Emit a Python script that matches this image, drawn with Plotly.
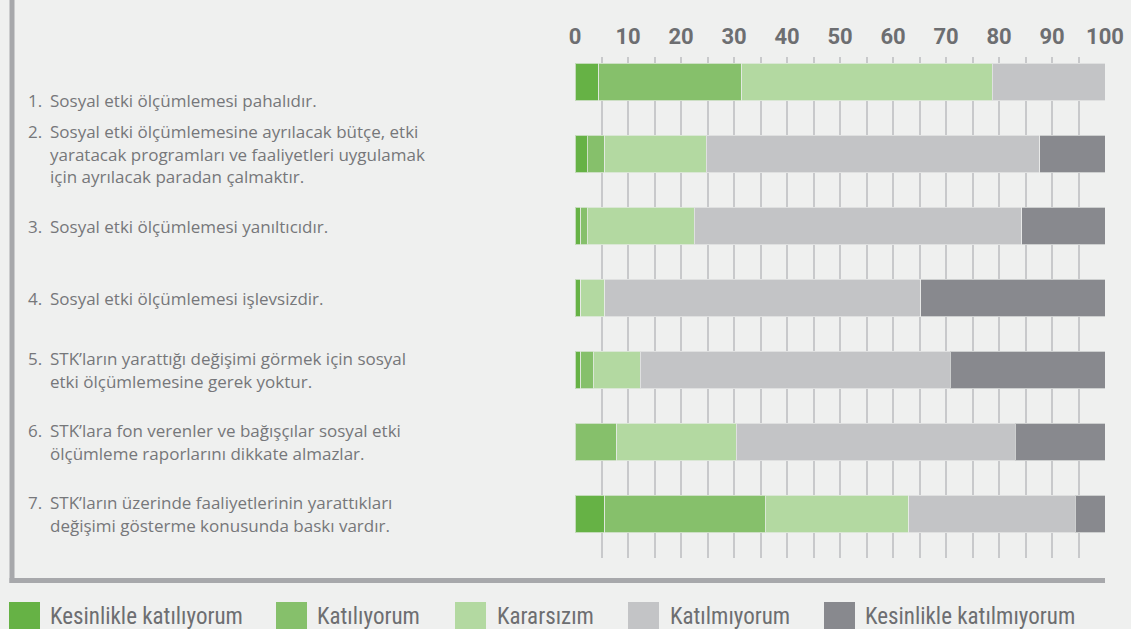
import plotly.graph_objects as go

# ---- data ----
row_ids = ["S1", "S2", "S3", "S4", "S5", "S6", "S7"]
row_numbers = ["1.", "2.", "3.", "4.", "5.", "6.", "7."]
row_lines = [
    ["Sosyal etki ölçümlemesi pahalıdır."],
    ["Sosyal etki ölçümlemesine ayrılacak bütçe, etki",
     "yaratacak programları ve faaliyetleri uygulamak",
     "için ayrılacak paradan çalmaktır."],
    ["Sosyal etki ölçümlemesi yanıltıcıdır."],
    ["Sosyal etki ölçümlemesi işlevsizdir."],
    ["STK’ların yarattığı değişimi görmek için sosyal",
     "etki ölçümlemesine gerek yoktur."],
    ["STK’lara fon verenler ve bağışçılar sosyal etki",
     "ölçümleme raporlarını dikkate almazlar."],
    ["STK’ların üzerinde faaliyetlerinin yarattıkları",
     "değişimi gösterme konusunda baskı vardır."],
]
series_names = ["Kesinlikle katılıyorum", "Katılıyorum", "Kararsızım",
                "Katılmıyorum", "Kesinlikle katılmıyorum"]
kesinlikle_katiliyorum = [4.5, 2.3, 1.1, 1.1, 1.1, 0.0, 5.6]
katiliyorum = [27.0, 3.3, 1.2, 0.0, 2.3, 7.9, 30.3]
kararsizim = [47.2, 19.2, 20.2, 4.5, 8.9, 22.5, 27.1]
katilmiyorum = [21.3, 62.9, 61.8, 59.6, 58.5, 52.7, 31.4]
kesinlikle_katilmiyorum = [0.0, 12.3, 15.7, 34.8, 29.2, 16.9, 5.6]
tick_vals = [0, 10, 20, 30, 40, 50, 60, 70, 80, 90, 100]

series_values = [kesinlikle_katiliyorum, katiliyorum, kararsizim,
                 katilmiyorum, kesinlikle_katilmiyorum]
colors = ["#66b245", "#86c06b", "#b3d9a1", "#c3c4c6", "#88898e"]

W, H = 1131, 629
ML, MR, MT, MB = 575, 26, 57, 71
PW = W - ML - MR
PH = H - MT - MB
BG = "#eff0ef"


def px(x):
    return (x - ML) / PW


def py(y):
    return (H - MB - y) / PH


fig = go.Figure()
for name, vals, col in zip(series_names, series_values, colors):
    fig.add_trace(go.Bar(
        y=row_ids, x=vals, name=name, orientation="h",
        marker=dict(color=col, line=dict(color="rgba(235,237,235,0.7)", width=1)),
        width=0.52, showlegend=False,
    ))

label_font = dict(family="Open Sans, Noto Sans, sans-serif", size=17, color="#76777a")
LINE_H = 22.5
row_shift = [18, 0, 0, 0, 0, 0, 0]
for rid, num, lines, sh in zip(row_ids, row_numbers, row_lines, row_shift):
    n = len(lines)
    for i, ln in enumerate(lines):
        off = (i - (n - 1) / 2) * LINE_H + sh
        if i == 0:
            fig.add_annotation(x=px(26), xref="paper", y=rid, yref="y", text=num,
                               showarrow=False, xanchor="left", yanchor="middle",
                               font=label_font, yshift=-off)
        fig.add_annotation(x=px(48), xref="paper", y=rid, yref="y", text=ln,
                           showarrow=False, xanchor="left", yanchor="middle",
                           font=label_font, yshift=-off)

# frame lines
fig.add_shape(type="line", xref="paper", yref="paper", x0=px(12), x1=px(12),
              y0=py(-5), y1=py(583), line=dict(color="#a7a8ab", width=5))
fig.add_shape(type="line", xref="paper", yref="paper", x0=px(9.5), x1=px(1105),
              y0=py(580.5), y1=py(580.5), line=dict(color="#a7a8ab", width=5))

# legend
leg_sq_x = [9, 276, 455, 628, 824]
leg_tx_x = [48, 315, 495, 668, 863]
for name, col, sx, tx in zip(series_names, colors, leg_sq_x, leg_tx_x):
    fig.add_shape(type="rect", xref="paper", yref="paper", x0=px(sx), x1=px(sx + 31),
                  y0=py(602), y1=py(640), fillcolor=col, line=dict(width=0))
    fig.add_annotation(x=px(tx), xref="paper", y=py(616), yref="paper", text=name,
                       showarrow=False, xanchor="left", yanchor="middle",
                       font=dict(family="Liberation Sans Narrow, Roboto Condensed, Liberation Sans, sans-serif",
                                 size=23, color="#6d6e71"))

fig.update_layout(
    barmode="stack",
    width=W, height=H,
    margin=dict(l=ML, r=MR, t=MT, b=MB, pad=0, autoexpand=False),
    paper_bgcolor=BG, plot_bgcolor=BG,
    xaxis=dict(range=[0, 100], side="top", tickvals=tick_vals, automargin=False,
               showgrid=True, gridcolor="#c8c9cb", gridwidth=1.5,
               minor=dict(dtick=5, showgrid=True, gridcolor="#c8c9cb", gridwidth=1.5),
               zeroline=False, showline=False, ticks="",
               ticklabelstandoff=8,
               tickfont=dict(family="Roboto, sans-serif", size=22, color="#6d6e71", weight="bold")),
    yaxis=dict(range=[6.61, -0.35], showticklabels=False, showgrid=False, automargin=False,
               zeroline=False, showline=False, type="category"),
)

fig.write_html(
    "out.html",
    config={"displayModeBar": False},
    post_script="document.body.style.margin='0';document.body.style.background='%s';" % BG,
)
